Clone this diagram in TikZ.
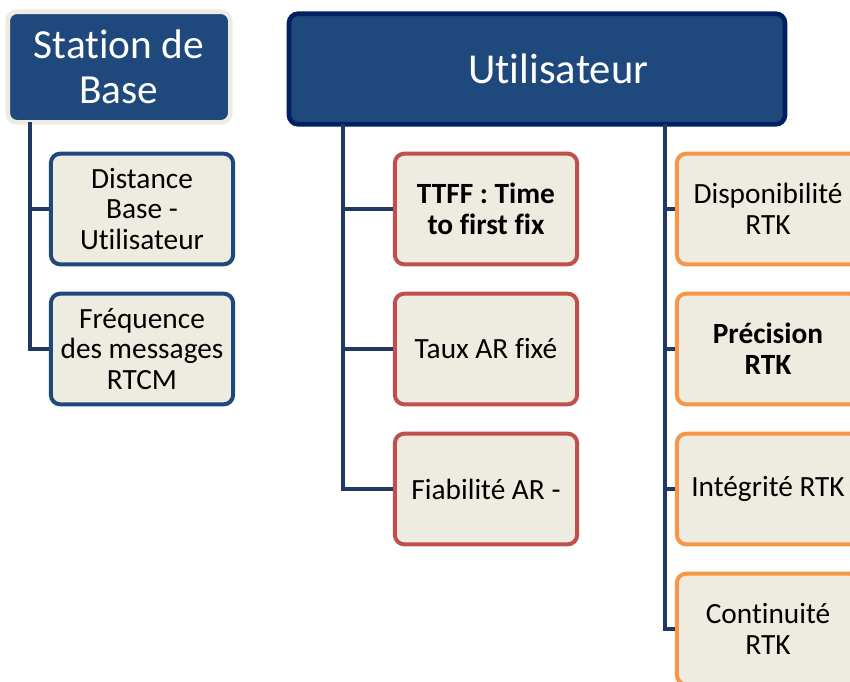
\documentclass[tikz,border=0pt]{standalone}
\usepackage{fontspec}
\setmainfont{Carlito}[Ligatures=NoCommon]
\usetikzlibrary{positioning}
\definecolor{bleu}{RGB}{31, 73, 125}
\definecolor{marine}{RGB}{0, 32, 96}
\definecolor{trait}{RGB}{31, 56, 100}
\definecolor{fond}{RGB}{238, 236, 225}
\definecolor{rouge}{RGB}{192, 80, 77}
\definecolor{orangeb}{RGB}{247, 150, 70}
\tikzset{
  titre/.style={rectangle, rounded corners=7pt, fill=bleu, line width=3.5pt,
    text=white, align=flush center},
  boite/.style={rectangle, rounded corners=7pt, fill=fond, line width=3pt,
    minimum width=132pt, minimum height=83pt, text width=130pt, align=flush center,
    font=\fontsize{22}{23}\selectfont},
  lien/.style={draw=trait, line width=3pt},
}
\begin{document}
\begin{tikzpicture}[x=0.75pt,y=-0.75pt]
	\useasboundingbox (0,0) rectangle (850,682); % cadre de l'image
	% les connecteurs
	\coordinate (lb) at (30,122);
	\coordinate (lu) at (343,124);
	\coordinate (lr) at (665,124);
	% les titres
	\node[titre, draw=fond, minimum width=167pt, minimum height=83pt,
		font=\fontsize{31}{34}\selectfont] (base) at (119,67) {Station de\\Base};
	\node[titre, draw=marine, minimum width=372pt, minimum height=83pt,
		text width=360pt, font=\fontsize{32}{36}\selectfont]
		(util) at (537,69) {\hspace*{32pt}Utilisateur};
	% station de base
	\node[boite, draw=bleu] (dist) at (142,209) {Distance\\Base -\\Utilisateur};
	\node[boite, draw=bleu] (freq) at (142,349) {Fréquence\\des messages\\RTCM};
	% utilisateur : ambiguites
	\node[boite, draw=rouge] (ttff) at (486,209) {\textbf{TTFF : Time\\to first fix}};
	\node[boite, draw=rouge] (taux) at (486,349) {Taux AR fixé};
	\node[boite, draw=rouge] (fiab) at (486,489) {Fiabilité AR -};
	% utilisateur : RTK
	\node[boite, draw=orangeb] (dispo) at (768,209) {Disponibilité\\RTK};
	\node[boite, draw=orangeb] (prec) at (768,349) {\textbf{Précision\\RTK}};
	\node[boite, draw=orangeb] (integ) at (768,489) {Intégrité RTK};
	\node[boite, draw=orangeb] (conti) at (768,629) {Continuité\\RTK};
	\draw[lien] (lb) |- (dist.west);
	\draw[lien] (lb) |- (freq.west);
	\draw[lien] (lu) |- (ttff.west);
	\draw[lien] (lu) |- (taux.west);
	\draw[lien] (lu) |- (fiab.west);
	\draw[lien] (lr) |- (dispo.west);
	\draw[lien] (lr) |- (prec.west);
	\draw[lien] (lr) |- (integ.west);
	\draw[lien] (lr) |- (conti.west);
\end{tikzpicture}
\end{document}
